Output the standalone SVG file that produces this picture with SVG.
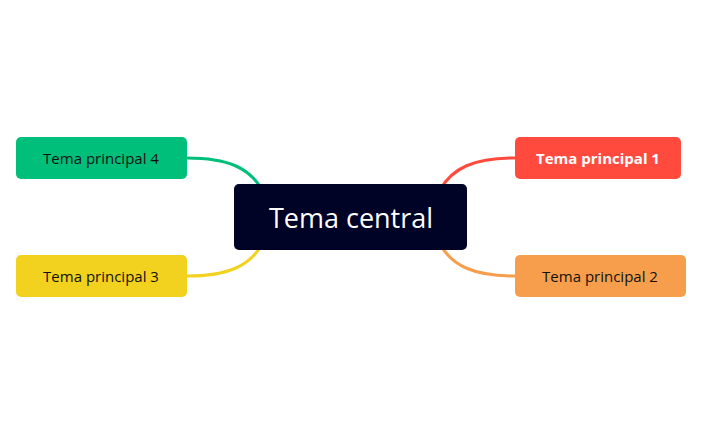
<svg xmlns="http://www.w3.org/2000/svg" width="702" height="435" viewBox="0 0 702 435">
<style>
.c{fill:none;stroke-width:3;stroke-linecap:round}
.t{font-family:"Open Sans","Liberation Sans",sans-serif;font-size:15px;text-anchor:middle;dominant-baseline:central}
</style>
<rect width="702" height="435" fill="#fff"/>
<g id="connectors">
<path class="c" stroke="#00BF7A" d="M187,158 C228,158 250,168 262,190"/>
<path class="c" stroke="#F2D21F" d="M187,276 C228,276 250,266 262,244"/>
<path class="c" stroke="#FF4A3D" d="M515,158 C474,158 452,168 440,190"/>
<path class="c" stroke="#F79E4C" d="M515,276 C474,276 452,266 440,244"/>
</g>
<g id="central"><rect x="234" y="184" width="233" height="66" rx="5" fill="#000326"/><text class="t" x="351" y="217" fill="#fff" style="font-size:27px">Tema central</text></g>
<g id="n1"><rect x="515" y="137" width="166" height="42" rx="5" fill="#FF4A3D"/><text class="t" x="598" y="158" fill="#fff" font-weight="bold">Tema principal 1</text></g>
<g id="n2"><rect x="515" y="255" width="171" height="42" rx="5" fill="#F79E4C"/><text class="t" x="600" y="276" fill="#111">Tema principal 2</text></g>
<g id="n3"><rect x="16" y="255" width="171" height="42" rx="5" fill="#F2D21F"/><text class="t" x="101" y="276" fill="#111">Tema principal 3</text></g>
<g id="n4"><rect x="16" y="137" width="171" height="42" rx="5" fill="#00BF7A"/><text class="t" x="101" y="158" fill="#111">Tema principal 4</text></g>
</svg>
